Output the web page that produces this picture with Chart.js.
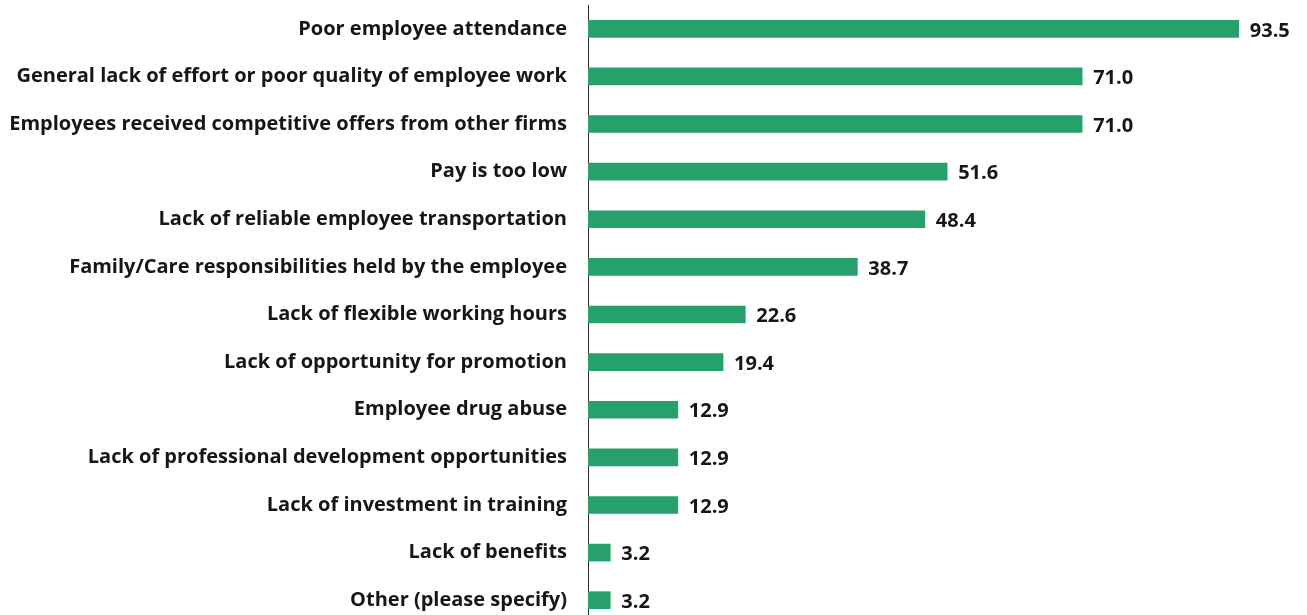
<!DOCTYPE html>
<html>
<head>
<meta charset="utf-8">
<script src="https://cdn.jsdelivr.net/npm/chart.js@4/dist/chart.umd.min.js"></script>
<style>
  html, body { margin: 0; padding: 0; background: #fff; overflow: hidden; }
  #wrap { width: 1307px; height: 625px; position: relative; }
</style>
</head>
<body>
<div id="wrap"><canvas id="reasons-chart"></canvas></div>
<script>
const reasons = [
  'Poor employee attendance',
  'General lack of effort or poor quality of employee work',
  'Employees received competitive offers from other firms',
  'Pay is too low',
  'Lack of reliable employee transportation',
  'Family/Care responsibilities held by the employee',
  'Lack of flexible working hours',
  'Lack of opportunity for promotion',
  'Employee drug abuse',
  'Lack of professional development opportunities',
  'Lack of investment in training',
  'Lack of benefits',
  'Other (please specify)'
];
const percents = [93.5, 71.0, 71.0, 51.6, 48.4, 38.7, 22.6, 19.4, 12.9, 12.9, 12.9, 3.2, 3.2];

const labelFont = { family: 'Open Sans', size: 20, weight: 'bold' };

// writes the value just past the end of each bar
const valueLabels = {
  id: 'valueLabels',
  afterDatasetsDraw(chart) {
    const ctx = chart.ctx;
    const meta = chart.getDatasetMeta(0);
    ctx.save();
    ctx.font = `${labelFont.weight} ${labelFont.size}px ${labelFont.family}`;
    ctx.fillStyle = '#161616';
    ctx.textAlign = 'left';
    ctx.textBaseline = 'middle';
    meta.data.forEach((bar, i) => {
      ctx.fillText(percents[i].toFixed(1), bar.x + 11, bar.y + 2);
    });
    ctx.restore();
  }
};

new Chart(document.getElementById('reasons-chart'), {
  type: 'bar',
  data: {
    labels: reasons,
    datasets: [{
      data: percents,
      backgroundColor: '#28a06c',
      barThickness: 17
    }]
  },
  options: {
    indexAxis: 'y',
    responsive: true,
    maintainAspectRatio: false,
    animation: false,
    layout: { padding: { top: 5, right: 23, bottom: 1, left: 0 } },
    plugins: {
      legend: { display: false },
      tooltip: { enabled: false }
    },
    scales: {
      x: {
        min: 0,
        max: 100,
        display: false,
        grid: { display: false }
      },
      y: {
        grid: { display: false, drawTicks: false },
        border: { display: true, color: '#2a2a2a', width: 1 },
        ticks: {
          color: '#161616',
          font: labelFont,
          padding: 21,
          autoSkip: false
        },
        afterFit(scale) {
          scale.width = 588;
          scale.paddingTop = 0;
          scale.paddingBottom = 0;
        }
      }
    }
  },
  plugins: [valueLabels]
});
</script>
</body>
</html>
